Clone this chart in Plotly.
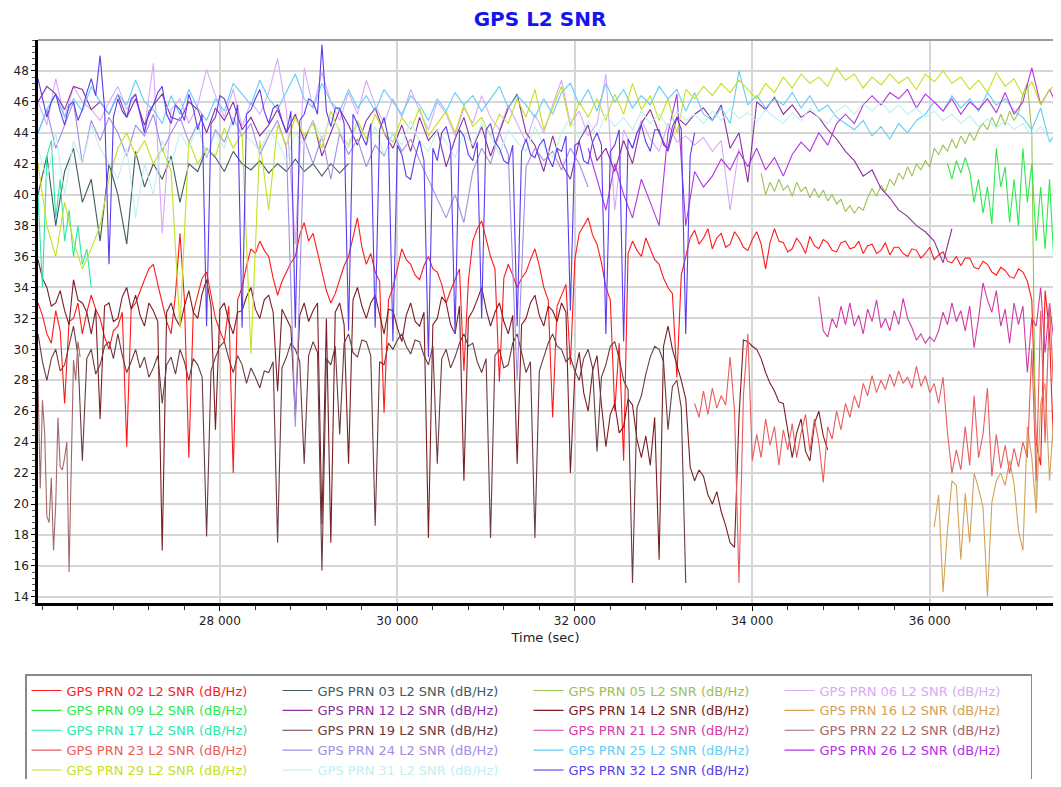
import plotly.graph_objects as go

# ---------------- data ----------------
# each series: start time (s), sample step (s), SNR values (dB/Hz)
PRN02_T0, PRN02_DT = 25950, 50
PRN02_SNR = [33,32.2, 31,30.4, 32.5,31.2, 26.5,31.8, 32,33, 31,32.4, 33.5,32.6, 32,30.8, 30,31.2, 31.5,32.4,
             23.7,32.6, 33,33.8, 34.5,35.2, 35.5,34.2, 33,31.8, 31,33.6, 37.5,33.2, 23,32.4, 33.5,34.6, 35,33.4,
             32,31.2, 30.5,32.8, 22,33.2, 34,35.4, 36.5,36.2, 37,36.4, 36,34.6, 33.5,34.4, 35,35.6, 36,37.4,
             38.2,37, 37.5,36.2, 35,33.8, 33,33.6, 34.5,35.4, 36,37.2, 38.5,36.6, 35.5,36.2, 35,34.4, 25.9,33.2,
             34,35.2, 36.5,35.8, 35.5,34.8, 34.5,35.4, 36,35.2, 35,34.2, 33,33.8, 34.5,35.2, 28.6,34.4, 37,37.8,
             38.3,37.2, 36,35.2, 27.9,34.6, 35.5,34.8, 34,34.6, 35,35.8, 36.5,35.4, 34,33.2, 25.6,32.8, 33.5,34.2,
             29,35.8, 37.5,38, 38.5,37.4, 36.8,35.6, 34,33.2, 26,30.4, 22.8,36.2, 37,36.4, 36,37.2, 36.5,35.8,
             35.5,34.6, 34,33.6, 28.2,34.8, 36,37.2, 37.7,36.8, 37.2,37.8, 36.5,37.2, 37.5,36.6, 36.8,37.6, 37.2,36.6,
             36.4,37.1, 37.6,36.8, 35.2,36.9, 37.8,37, 36.9,36.3, 36.5,37.2, 36.8,36.2, 37.3,36.7, 36.5,37.1, 36.9,36.4,
             36.3,36.9, 37,36.5, 36.6,37, 36.2,36.7, 36.8,36.2, 36.4,36.9, 36.1,36.6, 36.6,36.2, 36,36.5, 36.4,35.9,
             36.2,36.6, 35.8,36.1, 36.3,35.7, 35.6,36, 35.4,35.9, 35.9,35.3, 35.2,35.7, 35.5,35, 34.8,35.3, 35.1,34.7,
             34.6,35.2, 35,34.4, 33.2,24, 22.5,33.8, 31,22.8, 29.5]

PRN03_T0, PRN03_DT = 25950, 100
PRN03_SNR = [40,42.5,38,41.5,43,39.5,41,37,42,40, 36.8,42.8,40.5,42,41,42.5,39.5,42,41.5,43,
             42.4,41.5,42.8,42,41.6,42.2,41.4,42,41.5,42.3, 41.5,42,41.2,42,41.4,42]

PRN05_T0, PRN05_DT = 34100, 50
PRN05_SNR = [41.4,40,40.8,40.2,41,40.3,40.6,39.9,40.8,40.2, 40.5,39.8,40.4,39.8,40.3,39.6,40,39.4,39.7,38.9,
             39.3,38.8,39.2,39,39.8,40.4,39.9,40.6,40.2,41, 40.6,41.4,41,41.8,41.2,42,41.6,42.2,41.8,43,
             42.6,43.2,42.8,43.6,43,43.8,43.3,44,43.5,44.2, 44.6,44.2,45,44.4,45.2,44.5,45.4,44.8,45.3,46.5,
             47.2,44,20]

PRN06_T0, PRN06_DT = 25950, 100
PRN06_SNR = [46,44.5,47.5,45,47,46,45.5,44.8,46,47, 45.5,46.5,44.2,48.5,37.5,45.5,46.2,44.6,45.8,48.1,
             46.4,45,46.8,44.4,46,45.2,46.6,48.8,45.4,36.8, 48.2,45.6,47.9,46,44.8,46.6,45.2,47.4,45.8,44.6,
             46.2,45,46.8,45.4,44.2,46,45.2,43.8,45.6,44.6, 46.4,45,44.2,45.8,44.6,43.4,45.2,44,45.8,47.4,
             44.6,45.4,43.8,44.6,47.8,39,44.2,43,44.8,43.6, 42.8,44.6,43.4,43.8,43.2,43.7,42.8,43.5,39,43]

PRN09_T0, PRN09_DT = 36200, 50
PRN09_SNR = [42,41,42.2,41.4,42.4,41.5,39.5,41,38.8,40.5, 38.1,43,40.5,41.8,38.2,41,38,43,39.5,42,
             37,40.5,36.5,41,35.5,39]

PRN12_T0, PRN12_DT = 25950, 100
PRN12_SNR = [46,47,46.5,45.5,47,46.8,45.5,46,45.2,46.5, 45,46.2,44.5,45.8,46.5,45,44.8,46,45.5,44,
             45.6,44.8,46,44.2,45,43.8,44.5,45.5,44,45.2, 43.5,44.8,42.5,44,45.5,44.5,43.2,44.8,45.6,44,
             43,44.5,42.8,45,43.5,44.2,41.8,43.6,45,43, 44.4,42.5,44,45.6,46.5,44,43.2,41.5,43.8,42,
             41,43.5,44.5,42.2,43,41.5,43.5,42,44.6,45.5, 44,42.8,45,44.5,45.2,45.6,44.8,45.8,43,44,
             40.8,46,45.5,46.3,45.2,45.8,45,45.4,45,44.2, 43.6,42.8,42.2,41.2,41.6,40.4,39.8,39,38.6,38,
             37.6,37,35.6,37.8]

PRN14_T0, PRN14_DT = 25950, 50
PRN14_SNR = [35.8,34.6, 34,32.8, 33,33.8, 32.5,31.6, 34.5,33.2, 33,32.4, 31,32.6, 25.5,32.8, 33,31.8, 32,33.4,
             34,32.6, 33.5,32.2, 31.5,33, 32.5,31.8, 17,32.4, 33,32, 31.5,32.8, 33.8,32.4, 32,33.6, 34.5,32.8,
             24.8,32.6, 33,31.8, 31,32.4, 32.5,33.4, 34,32.6, 32,33.2, 33.5,32.4, 27.3,32.6, 32,31.4, 25.6,32.2,
             33,31.8, 32.5,33, 18.7,32, 17.5,32.4, 33,31.6, 22.6,33.2, 34,32.8, 32,33, 33.5,32.2, 31,32.6,
             32.5,31.4, 30.5,32.2, 33,31.8, 31.5,32.4, 17.8,31.6, 32,33.4, 33,31.6, 31,32.8, 21.5,32, 32.5,33.2,
             34,32.6, 31.5,32.4, 33,31.8, 31,32.2, 22.6,31.6, 32,33, 33.5,32.2, 31.5,32.8, 32.5,31.8, 33,32.4,
             22,28.4, 29.8,27.2, 26,28.6, 29.6,26.4, 23.7,25.8, 26.5,24.6, 25,26.8, 26.4,24.2, 23,24.4, 22.5,25.6,
             16.4,30.2, 31.5,30, 29,28, 26.8,22.4, 21.5,22.2, 21.8,20.6, 20,20.8, 19.5,18.6, 17.5,17.2, 25.6,30.6,
             30.5,30.2, 30,29.4, 28.5,27.8, 27.3,26.6, 26.5,24.8, 23,24.6, 25.5,23.4, 22.8,25.2, 26,24.4, 23.5]

PRN16_T0, PRN16_DT = 36050, 50
PRN16_SNR = [18.5,20.6,14.3,18.3,21.5,21.2,16.4,20.7,17.5,22, 21,19.8,14,20.1,21.5,22,21.2,22.8,21.3,18.3,
             17,25,23,19.4,26.5,27.8,21.5,26,29.3]

PRN17_T0, PRN17_DT = 25950, 50
PRN17_SNR = [40,34,42.5,43.5,38.5,41,37,39,36,38, 35.5,36.5,34]

PRN19_T0, PRN19_DT = 25950, 50
PRN19_SNR = [31,29.2, 28,29.4, 30,28.6, 29,30.2, 31.5,29.6, 22.8,29.4, 30,28.4, 29,30.2, 30.5,29.4, 31,29.6,
             28.5,29.2, 30,28.8, 29.5,28.2, 28.8,29.6, 26.5,29, 29.5,28.4, 30,29.2, 28,29.4, 29,28.2, 17.9,28.6,
             29.5,30.2, 30.5,29.4, 28.5,29.6, 29,27.8, 28.8,28.2, 27.5,28.6, 28.5,29.2, 17.5,28.8, 29.5,30.4, 30,29.2,
             22.6,29.6, 30.5,29.8, 15.7,29.4, 29,30.2, 24.5,30.4, 31,29.8, 29.5,30.6, 30.5,29.6, 18.6,29.2, 29,30.4,
             30,30.6, 31,30.2, 29.7,30.6, 30.5,29.6, 29,30.2, 22.6,29.4, 30,28.8, 29.5,30.4, 31,30.2, 30.4,29.2,
             28.5,29.4, 17.8,29.6, 30,28.8, 29,30.4, 31,29.8, 28.5,29.2, 17.8,28.6, 29.5,30.4, 31,30.2, 30,29.2,
             29.5,28.6, 28,29.4, 30,28.8, 23.4,28.2, 29,30.2, 30.5,29.4, 28,27.4, 14.9,26.2, 27,28.4, 29.5,30.2,
             30,29.2, 24.8,27.6, 28,26.2, 14.9]

PRN21_T0, PRN21_DT = 34750, 50
PRN21_SNR = [33.4,31.2,30.8,32,31.4,32.8,31.6,33,31.5,32.2, 31,32.6,31.8,33.2,31.4,32,31.2,32.5,31.6,33.3,
             32,31.4,30.6,31,30.4,30.8,30.5,31.2,32.4,31.6, 33,31.8,32.5,31.2,32.8,30.1,32,34.3,33.2,32.4,
             33.8,31.5,32.6,30.4,33,31.6,32.8,28.5,32,31.5, 34,29.8,33,30.5,32]

PRN22_T0, PRN22_DT = 25950, 25
PRN22_SNR = [28,21,26.7,24.6,19.2,18.8,21.7,17,20,25.6, 22.4,22.2,23,24,15.6,22,29.3,28,30.5,29.5]

PRN23_T0, PRN23_DT = 33350, 50
PRN23_SNR = [26.5,25.6,27.3,25.8,27.5,26.2,27,26.4,29.5,26, 14.9,27,31,22.8,24.5,23,25.5,23.8,25,22.5,
             24.8,23.5,25.2,23,24.6,25.8,23.4,25.5,24,21.4, 25,24.2,26,24.8,26.5,25.6,27,26.2,27.8,27,
             28.3,27.2,28,27.4,28.4,27.6,28.6,27.8,28.2,27.5, 28.9,27.6,28.3,27.2,27.8,26.5,28.2,24.6,22,23.5,
             22.2,25,22.5,27,23,24.5,27.5,21.8,24.5,22.3, 23.8,22,23.6,22.4,24,23,30,21.5,32.5,24,
             33,27,31.5]

PRN24_T0, PRN24_DT = 25950, 100
PRN24_SNR = [44,45.5,43,44.5,46,42,44.8,43.5,45,44, 42.5,44.5,43.8,45.2,42.8,44,45,43.4,44.6,42.4,
             44.2,43.4,45,43.8,44.6,42.6,43.8,44.8,43,25, 43.6,42,43.8,41,44,42.6,43.6,41.8,43.2,42.5,
             44,42.8,43.6,42.2,41,39.8,38.5,40,38.2,41.5, 43,42,44,42.6,28,41.8,43,42.2,42.8,41.6,
             43,42,40.5]

PRN25_T0, PRN25_DT = 25950, 100
PRN25_SNR = [44,45.5,46.5,45,46.2,45.4,47,46,45.2,46.5, 45.8,47.4,46,45.5,44.6,46.4,45.2,46.8,45.6,44.8,
             46.2,45.4,47.2,46.5,45.8,47.4,46.2,45.5,46.6,47.8, 46.2,45.6,47.2,46,45.4,46.8,45.6,46.4,45.4,46.8,
             46,45.2,46.4,45.8,44.8,46.2,45.4,46.6,45.8,46.4, 45.4,46.2,47,45.6,46.4,45.8,45,46.2,45.2,46.6,
             47.2,45.8,46.8,45.4,47.2,46,46.8,45.6,46.4,45.8, 47,46.2,46.8,45.4,46.6,45.2,44.8,45.6,44.6,48,
             45.8,46.4,45.6,46.2,45.8,46.6,45.6,46.4,45.4,45.8, 45,44.6,44.2,44.8,43.8,44.4,43.6,44.6,44,44.8,
             45.2,46,45.4,46.4,45.6,46.2,45.4,46.6,45.8,46.2, 45.4,45,44.2,45.6,43.4,44.2]

PRN26_T0, PRN26_DT = 32150, 100
PRN26_SNR = [43,41,39,42,40,38.5,41,39.5,38,44, 46.5,38,41.5,40.5,41.2,42.3,41.6,42.8,41.8,43,
             41.6,42.4,41.2,42.6,43.4,42.8,44,43.2,44.6,45.2, 44.6,45.8,46.4,45.8,46.6,46.2,46.8,45.6,46.5,46,
             45.4,46.2,45.2,46,45.5,46.2,45.3,46.6,45.2,46, 48.2,45.8,46.8,45.6]

PRN29_T0, PRN29_DT = 25950, 100
PRN29_SNR = [42,38,36,39.5,37,35.2,36.5,38,41,43, 44,42.5,43.5,42,43,41.5,31.4,43.5,42,43,
             42.5,44.3,43,44,29.7,43.5,39,44.5,43.2,45, 43.8,44.6,43,45.4,44,43.2,44.8,43.6,45.2,44,
             43.4,45,44.2,45.6,43.8,44.6,45.4,44,45.8,44.4, 45,43.8,45.2,44.6,46.2,45,46.8,44.2,45.6,47,
             44.4,46,45,46.2,44.8,46.5,45.2,47.2,45.5,46.4, 44.8,46.2,44,46.8,46.2,47,46.4,47.2,46.6,47.4,
             46.8,46.2,47.2,46.6,47.6,46.9,47.8,47.2,47.6,47, 48.2,47.4,47.8,46.9,47.6,47.1,47.8,47.2,47.6,46.8,
             47.8,47.3,48,47.2,47.6,46.8,47.4,46.6,47.9,47, 47.5,46.4,47.3,45.8,46.8,47.2]

PRN31_T0, PRN31_DT = 25950, 100
PRN31_SNR = [43,41,44,40,43.5,42,44.5,43,42,41, 43,38.5,42,40,43.5,42,44,43,44.5,42.5,
             44,43,45,44,43.5,42.8,44.2,43.4,42.2,44, 43.2,44.8,43.6,45,44.2,43,44.6,43.2,44.4,42.6,
             44,43.2,44.8,43.4,42.8,44.2,43.4,42.4,44,43.2, 44.6,43.8,42.6,44.2,43.4,42.8,44.4,43.2,42.4,44,
             45,43.6,44.8,43.8,45.2,44.4,45,44.2,45.4,44.6, 45.2,44.4,45.4,44.8,45.2,44.6,45.4,44.8,45.6,44.9,
             45.3,44.7,45.5,45,44.6,45.3,44.8,45.6,45,44.6, 45.4,45.8,45.2,45.9,45.4,46,45.3,45.8,45.2,45.6,
             45,45.4,44.8,45.2,44.6,45.1,44.4,44.9,44.3,44.8, 44.2,44.6,43.8,44.4,43.6,44]

PRN32_T0, PRN32_DT = 25950, 50
PRN32_SNR = [47.5,46.2, 45,46, 46.5,45.4, 44.5,45.8, 46,44.8, 45.5,46.6, 47.5,46.4, 49,45.6, 35.5,45, 46.2,45.4,
             45,46.2, 46.5,45.2, 44,45.4, 45.8,46.6, 47,45.2, 44.6,45.8, 45.5,44.8, 46.5,45.6, 44.2,45.2, 31.5,44.6,
             45,46.4, 46.2,45.4, 44.5,45.8, 31.4,45.2, 45.5,46.2, 46.8,45.4, 44.6,45.6, 45.8,44.8, 44,45.4, 31.4,44.8,
             45.2,46.2, 46,45.2, 49.7,45.4, 44.4,45.6, 45.6,44.6, 31.2,45.2, 44.6,43.8, 43.2,44.6, 31.4,44.2, 45,43.6,
             30.5,43.2, 42.6,41.2, 41,42.4, 43.5,42.2, 29.5,43, 42.2,44, 44.4,43.2, 31,44.2, 43.8,42.6, 42.2,43.4,
             32,44.2, 44.6,43.4, 43,42.2, 42,43.2, 31.5,42.8, 43.6,42.6, 42.4,43.2, 43.6,42.4, 41.8,43, 42.8,43.8,
             32.5,43.2, 43.4,42.2, 42,43.4, 44,43.2, 31,42.8, 43.2,44.2, 30.5,43.6, 43,44, 44.5,43.4, 42.8,44.2,
             44.2,43.2, 43,44.4, 45,44.2, 31,42.5, 44]

SERIES = [
    ("02", PRN02_T0, PRN02_DT, PRN02_SNR, "#ff1a1a"),
    ("03", PRN03_T0, PRN03_DT, PRN03_SNR, "#3f5c5c"),
    ("05", PRN05_T0, PRN05_DT, PRN05_SNR, "#9cc153"),
    ("06", PRN06_T0, PRN06_DT, PRN06_SNR, "#d9a9f9"),
    ("09", PRN09_T0, PRN09_DT, PRN09_SNR, "#2ee84c"),
    ("12", PRN12_T0, PRN12_DT, PRN12_SNR, "#8c2f9f"),
    ("14", PRN14_T0, PRN14_DT, PRN14_SNR, "#7a1e24"),
    ("16", PRN16_T0, PRN16_DT, PRN16_SNR, "#d4a257"),
    ("17", PRN17_T0, PRN17_DT, PRN17_SNR, "#2ee6a6"),
    ("19", PRN19_T0, PRN19_DT, PRN19_SNR, "#6a3c40"),
    ("21", PRN21_T0, PRN21_DT, PRN21_SNR, "#d23aa6"),
    ("22", PRN22_T0, PRN22_DT, PRN22_SNR, "#a4686a"),
    ("23", PRN23_T0, PRN23_DT, PRN23_SNR, "#ea5d5d"),
    ("24", PRN24_T0, PRN24_DT, PRN24_SNR, "#a38ce3"),
    ("25", PRN25_T0, PRN25_DT, PRN25_SNR, "#62cdf6"),
    ("26", PRN26_T0, PRN26_DT, PRN26_SNR, "#b333e3"),
    ("29", PRN29_T0, PRN29_DT, PRN29_SNR, "#c6e022"),
    ("31", PRN31_T0, PRN31_DT, PRN31_SNR, "#bff0ee"),
    ("32", PRN32_T0, PRN32_DT, PRN32_SNR, "#5b3cef"),
]

X_TICKS = [28000, 30000, 32000, 34000, 36000]
X_TICK_LABELS = ["28 000", "30 000", "32 000", "34 000", "36 000"]
Y_TICKS = list(range(14, 49, 2))

# ---------------- figure ----------------
# the page body has an 8 px margin, so the figure sits at (8, 8) in the window;
# it is sized to fit the window exactly so no scrollbars appear
FONT = "DejaVu Sans"
W, H = 1045, 771
fig = go.Figure()
for prn, t0, dt, vals, col in SERIES:
    times = [t0 + dt * k for k in range(len(vals))]
    label = f"GPS PRN {prn} L2 SNR (dB/Hz)"
    fig.add_trace(go.Scatter(
        x=times, y=vals, mode="lines",
        line=dict(color=col, width=1.1),
        name=f'<span style="color:{col}">{label}</span>',
    ))

fig.update_layout(
    width=W, height=H,
    paper_bgcolor="white", plot_bgcolor="white",
    margin=dict(l=30, r=0, t=32, b=176, autoexpand=False),
    font=dict(family=FONT, size=12, color="#222"),
    title=dict(text="<b>GPS L2 SNR</b>", x=532 / W, xref="container", xanchor="center",
               y=1 - 4 / H, yref="container", yanchor="top",
               font=dict(family=FONT, size=20, color="#1414f0")),
    showlegend=True,
    legend=dict(orientation="h", xref="container", yref="container",
                x=17 / W, xanchor="left", y=1 - 666 / H, yanchor="top",
                entrywidth=206, entrywidthmode="pixels", traceorder="normal",
                bgcolor="white", bordercolor="#8a8a8a", borderwidth=1.5,
                font=dict(family=FONT, size=13), itemwidth=30, tracegroupgap=0),
    xaxis=dict(range=[25950, 37389], tickvals=X_TICKS, ticktext=X_TICK_LABELS,
               showline=True, linecolor="black", linewidth=2.5,
               ticks="outside", ticklen=5, tickcolor="black",
               showgrid=True, gridcolor="#d6d6d6", gridwidth=1.5, zeroline=False,
               minor=dict(dtick=400, ticks="outside", ticklen=4, tickcolor="#333", showgrid=False),
               title=dict(text="Time (sec)", font=dict(size=13), standoff=6),
               tickfont=dict(size=12), automargin=False),
    yaxis=dict(range=[13.6, 50], tickvals=Y_TICKS,
               showline=True, linecolor="black", linewidth=2.5,
               ticks="outside", ticklen=4, tickcolor="black",
               showgrid=True, gridcolor="#d6d6d6", gridwidth=1.5, zeroline=False,
               minor=dict(dtick=0.4, ticks="outside", ticklen=3, tickcolor="#555", showgrid=False),
               tickfont=dict(size=12), automargin=False),
    shapes=[dict(type="line", xref="paper", yref="paper", x0=0, x1=1, y0=1, y1=1,
                 line=dict(color="#9a9a9a", width=2))],
)

fig.write_html("out.html")
